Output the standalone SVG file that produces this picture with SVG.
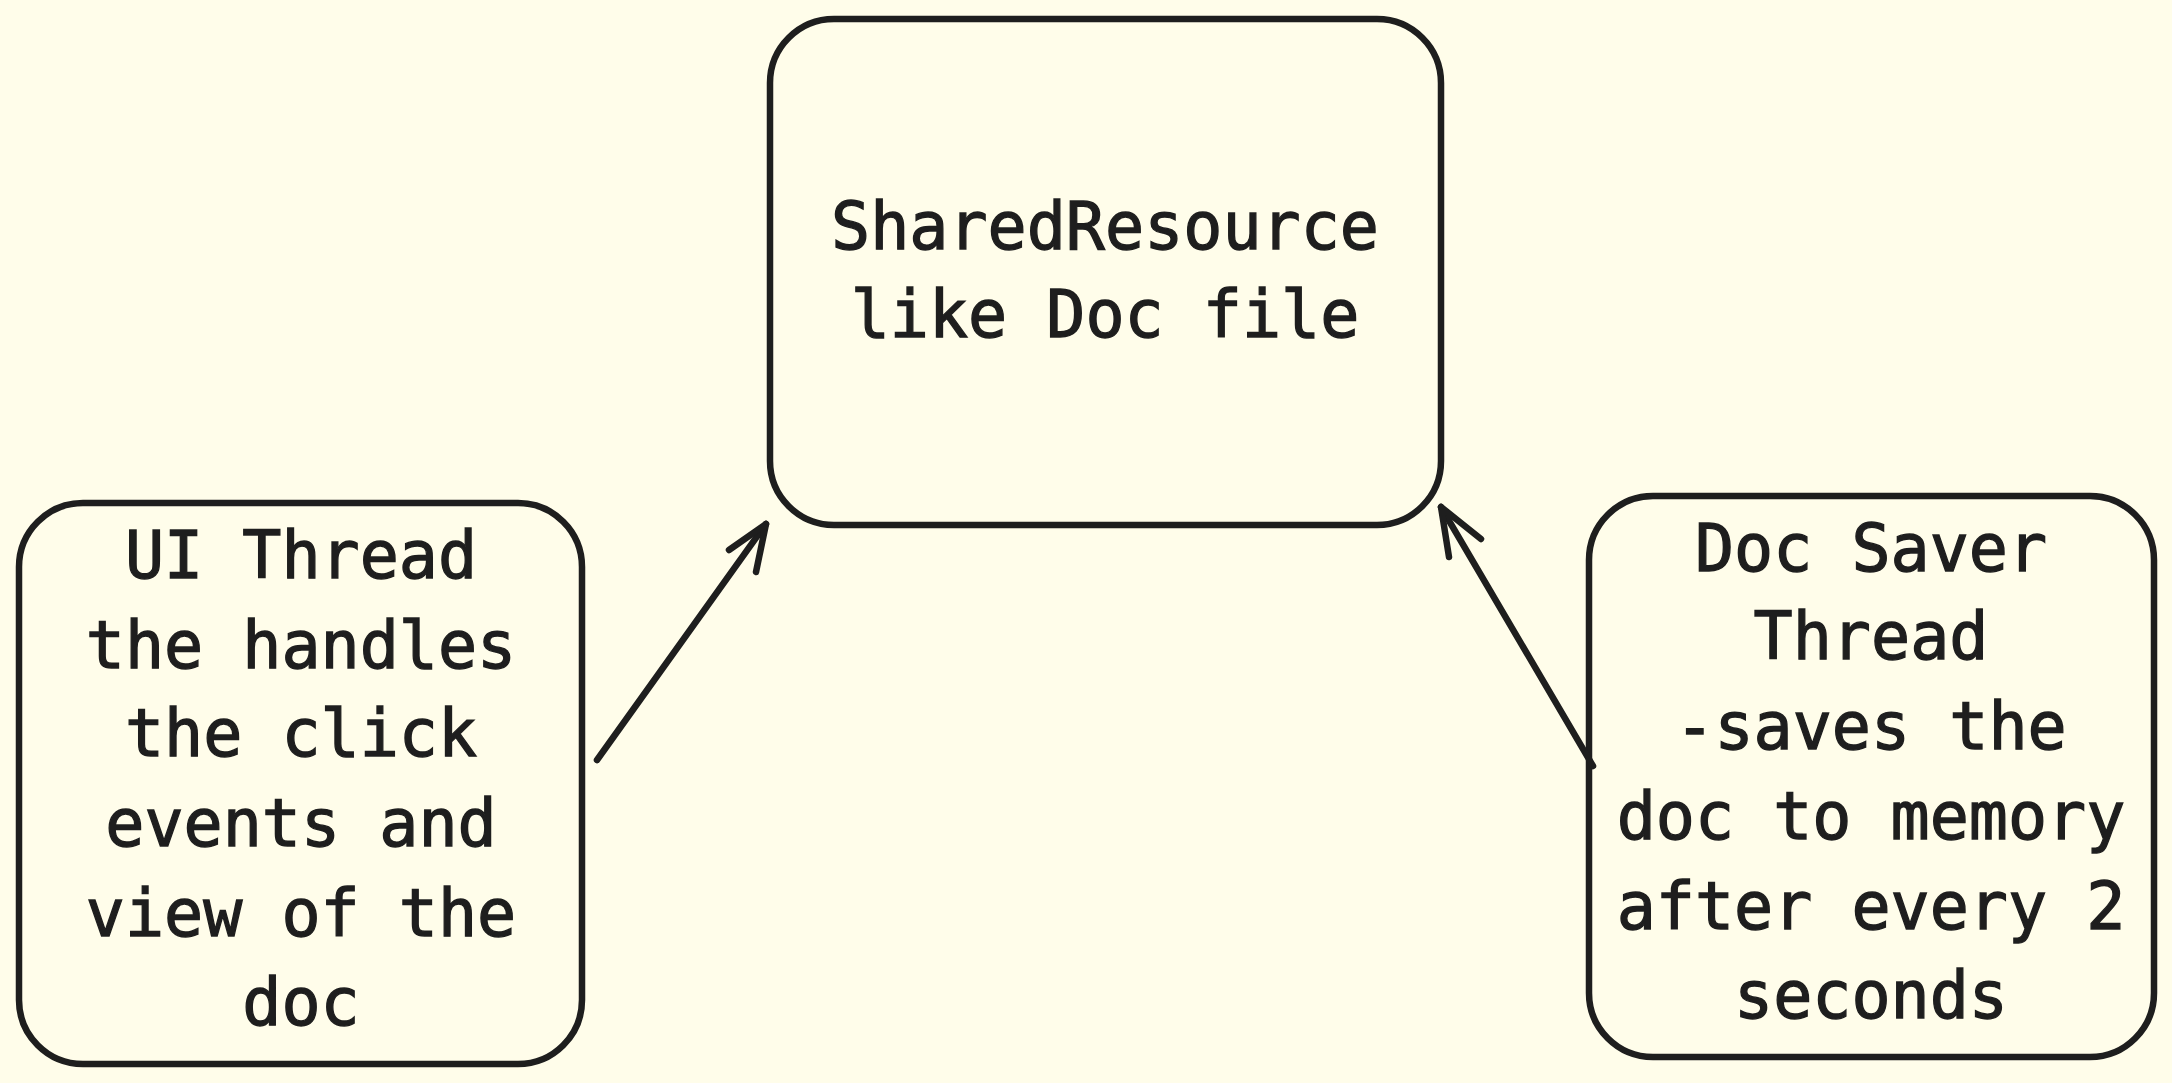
<svg xmlns="http://www.w3.org/2000/svg" width="2172" height="1083" viewBox="0 0 2172 1083">
<style>
.box{fill:#fffdea;stroke:#1e1e1e;stroke-width:6.5;}
.t{font-family:"DejaVu Sans Mono","Liberation Mono",monospace;font-size:65px;fill:#1e1e1e;stroke:#1e1e1e;stroke-width:1.3;text-anchor:middle;}
.c{fill:none;stroke:#1e1e1e;stroke-width:6.5;stroke-linecap:round;stroke-linejoin:round;}
</style>
<rect x="0" y="0" width="2172" height="1083" fill="#fffdea"/>
<g id="shared">
<rect class="box" x="770" y="19" width="671" height="506" rx="64" ry="64"/>
<text class="t" x="1105" y="249">SharedResource</text>
<text class="t" x="1105" y="337">like Doc file</text>
</g>
<g id="ui">
<rect class="box" x="19" y="503" width="563" height="561" rx="64" ry="64"/>
<text class="t" x="301" y="578">UI Thread</text>
<text class="t" x="301" y="668">the handles</text>
<text class="t" x="301" y="756">the click</text>
<text class="t" x="301" y="846">events and</text>
<text class="t" x="301" y="936">view of the</text>
<text class="t" x="301" y="1025">doc</text>
</g>
<g id="saver">
<rect class="box" x="1589" y="496" width="565" height="561" rx="64" ry="64"/>
<text class="t" x="1871" y="571">Doc Saver</text>
<text class="t" x="1871" y="659">Thread</text>
<text class="t" x="1871" y="749">-saves the</text>
<text class="t" x="1871" y="839">doc to memory</text>
<text class="t" x="1871" y="929">after every 2</text>
<text class="t" x="1871" y="1018">seconds</text>
</g>
<g id="connectors">
<path class="c" d="M597 760 L766 524"/>
<path class="c" d="M729 550 L766 524 L756 572"/>
<path class="c" d="M1593 766 L1441 507"/>
<path class="c" d="M1481 539 L1441 507 L1449 557"/>
</g>
</svg>
